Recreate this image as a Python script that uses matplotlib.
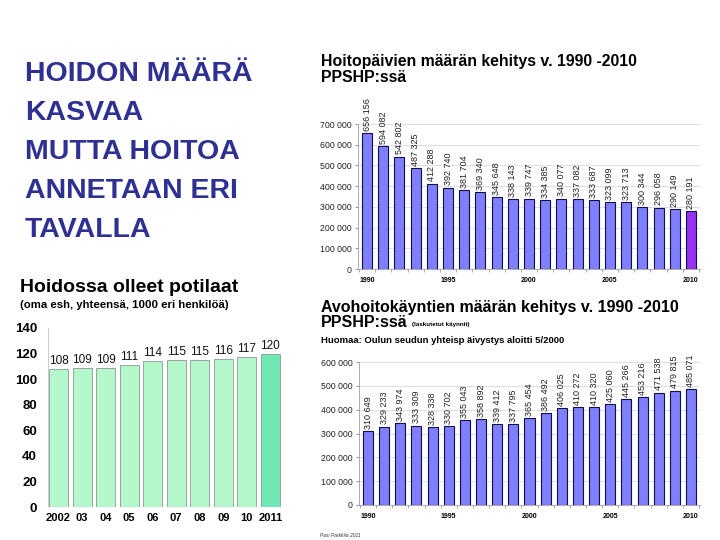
import numpy as np
import matplotlib
matplotlib.use("Agg")
import matplotlib.pyplot as plt

plt.rcParams['font.family'] = ['Liberation Sans', 'DejaVu Sans']

# data
years = list(range(1990, 2011))
hoitopaivat = [656156, 594082, 542802, 487325, 412288, 392740, 381704, 369340,
               345648, 338143, 339747, 334385, 340077, 337082, 333687, 323099,
               323713, 300344, 296058, 290149, 280191]
avohoito = [310649, 329233, 343974, 333309, 328338, 330702, 355043, 358892,
            339412, 337795, 365454, 386492, 406025, 410272, 410320, 425060,
            445266, 453216, 471538, 479815, 485071]
pot_labels = ["2002", "03", "04", "05", "06", "07", "08", "09", "10", "2011"]
potilaat = [108, 109, 109, 111, 114, 115, 115, 116, 117, 120]

W, H = 720, 540
fig = plt.figure(figsize=(W / 100, H / 100), dpi=100)
fig.patch.set_facecolor("white")


def box(x0, ytop, x1, ybot):
    return [x0 / W, 1 - ybot / H, (x1 - x0) / W, (ybot - ytop) / H]


def fmt(v):
    return f"{v:,}".replace(",", " ")


def px(x, y):
    return x / W, 1 - y / H


# big slide text
big = ["HOIDON MÄÄRÄ", "KASVAA", "MUTTA HOITOA", "ANNETAAN ERI", "TAVALLA"]
for i, line in enumerate(big):
    fig.text(*px(25, 81 + 39 * i), line, fontsize=20.5, fontweight="bold",
             color="#2e3192", va="baseline", ha="left")


def year_chart(ax, vals, ymax, last_color):
    colors = ["#8080ff"] * len(vals)
    if last_color:
        colors[-1] = last_color
    ax.bar(years, vals, width=0.62, color=colors, edgecolor="#10104a",
           linewidth=0.8, zorder=3)
    for x, v in zip(years, vals):
        ax.text(x, v + ymax * 0.015, fmt(v), rotation=90, ha="center",
                va="bottom", fontsize=6.5, color="#222222", clip_on=False)
    ax.set_xlim(years[0] - 0.56, years[-1] + 0.56)
    ax.set_ylim(0, ymax)
    ax.set_yticks(np.arange(0, ymax + 1, 100000))
    ax.set_yticklabels([fmt(int(t)) for t in ax.get_yticks()], fontsize=6.3,
                       color="#222222")
    ax.set_xticks([1990, 1995, 2000, 2005, 2010])
    ax.set_xticklabels(["1990", "1995", "2000", "2005", "2010"], fontsize=5,
                       fontweight="bold")
    ax.set_xticks(np.arange(years[0] - 0.5, years[-1] + 1, 1), minor=True)
    ax.tick_params(axis="x", which="major", length=0, pad=6)
    ax.tick_params(axis="x", which="minor", length=2.5, color="#999999")
    ax.tick_params(axis="y", length=2.5, color="#999999", pad=2)
    ax.grid(axis="y", color="#d8d8e0", linewidth=0.6, zorder=0)
    for s in ["top", "right"]:
        ax.spines[s].set_visible(False)
    for s in ["left", "bottom"]:
        ax.spines[s].set_color("#aaaaaa")
        ax.spines[s].set_linewidth(0.7)


# top right chart
ax1 = fig.add_axes(box(358, 124, 700, 269))
year_chart(ax1, hoitopaivat, 700000, "#9933f0")
fig.text(*px(321, 66), "Hoitopäivien määrän kehitys v. 1990 -2010",
         fontsize=11.4, fontweight="bold", va="baseline")
fig.text(*px(321, 82), "PPSHP:ssä", fontsize=11.4, fontweight="bold",
         va="baseline")

# bottom right chart
ax2 = fig.add_axes(box(359, 362, 700, 505))
year_chart(ax2, avohoito, 600000, None)
fig.text(*px(321, 312), "Avohoitokäyntien määrän kehitys v. 1990 -2010",
         fontsize=11.5, fontweight="bold", va="baseline")
fig.text(*px(321, 327), "PPSHP:ssä", fontsize=11.5, fontweight="bold",
         va="baseline")
fig.text(*px(412, 326), "(laskutetut käynnit)", fontsize=4.5, fontweight="bold",
         va="baseline")
fig.text(*px(321, 343), "Huomaa: Oulun seudun yhteisp äivystys aloitti 5/2000",
         fontsize=6.8, fontweight="bold", va="baseline")
fig.text(*px(320, 537), "Pasi Parkkila 2011", fontsize=3.5, style="italic",
         va="baseline", color="#333333")

# left chart
ax3 = fig.add_axes(box(48, 328, 282, 507))
x = np.arange(len(potilaat))
gcol = ["#b3f7cb"] * len(potilaat)
gcol[-1] = "#70e8b4"
ax3.bar(x, potilaat, width=0.8, color=gcol, edgecolor="#9aa59e", linewidth=0.7)
for xi, v in zip(x, potilaat):
    ax3.text(xi, v + 1.5, str(v), ha="center", va="bottom", fontsize=8.5,
             color="#111111")
ax3.set_xlim(-0.45, len(potilaat) - 0.5)
ax3.set_ylim(0, 140)
ax3.set_yticks(np.arange(0, 141, 20))
ax3.set_yticklabels([str(t) for t in range(0, 141, 20)], fontsize=9.5,
                    fontweight="bold")
ax3.set_xticks(x)
ax3.set_xticklabels(pot_labels, fontsize=8, fontweight="bold")
ax3.tick_params(axis="x", length=0, pad=4)
ax3.tick_params(axis="y", length=0, pad=8)
for s in ["top", "right", "bottom"]:
    ax3.spines[s].set_visible(False)
ax3.spines["left"].set_color("#cccccc")
ax3.spines["left"].set_linewidth(0.7)
fig.text(*px(20, 292), "Hoidossa olleet potilaat", fontsize=14,
         fontweight="bold", va="baseline")
fig.text(*px(20, 308), "(oma esh, yhteensä, 1000 eri henkilöä)", fontsize=8.2,
         fontweight="bold", va="baseline")

fig.savefig("out.png", dpi=100)
